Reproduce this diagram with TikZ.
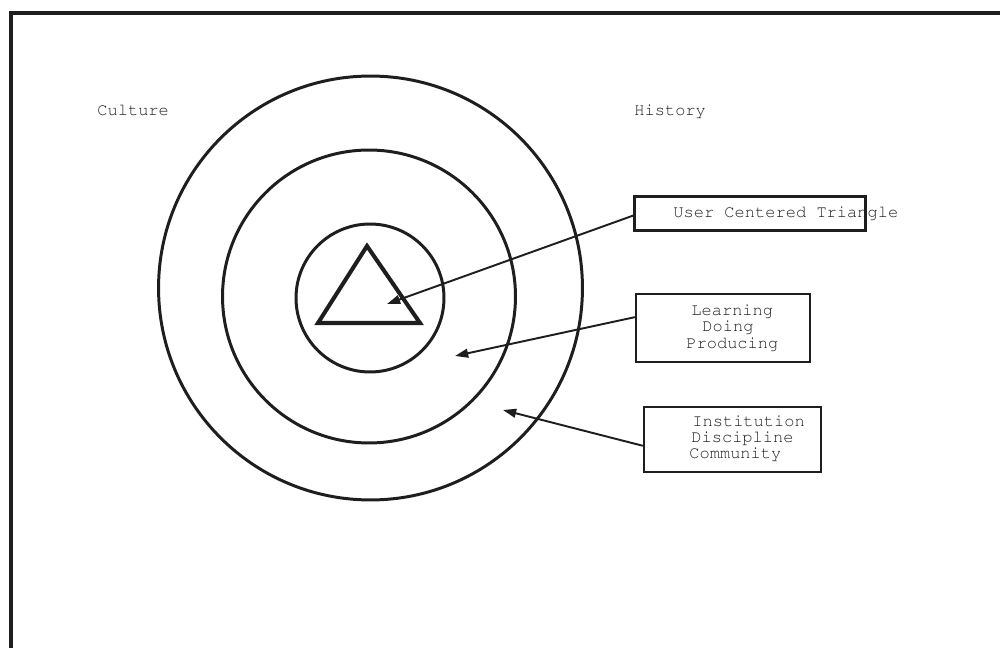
\documentclass[tikz,border=0pt]{standalone}
\usepackage[T1]{fontenc}
\usetikzlibrary{arrows.meta}
\definecolor{ink}{RGB}{30,30,30}
\tikzset{
  ring/.style={draw=ink, line width=1.7pt},
  labelbox/.style={draw=ink, line width=1.4pt, inner sep=0pt, rectangle},
  txt/.style={font=\fontencoding{T1}\fontfamily{pcr}\fontsize{9.7}{11}\selectfont, text=ink, inner sep=0pt, anchor=base west},
  pointer/.style={draw=ink, line width=1.1pt, -{Triangle[length=7.5pt,width=5pt]}}
}
\begin{document}
\begin{tikzpicture}[x={0.02cm}, y={-0.02cm}]
\useasboundingbox (0,0) rectangle (1000,648);
% frame
\draw[ink, line width=2.3pt, line join=miter] (11.3,660) -- (11.3,13) -- (1010,13);
% circles
\node[ring, circle, minimum size=8.48cm, inner sep=0pt] (outer) at (370.5,288) {};
\node[ring, circle, minimum size=5.86cm, inner sep=0pt] (middle) at (369,296.5) {};
\node[ring, circle, minimum size=2.96cm, inner sep=0pt] (inner) at (370,298) {};
% triangle
\draw[ink, line width=2.3pt, line join=miter] (367,246) -- (318,323) -- (420,323) -- cycle;
% corner labels
\node[txt] (culture) at (97,116) {Culture};
\node[txt] (history) at (634,116) {History};
% boxes
\node[labelbox, minimum width=4.62cm, minimum height=0.68cm] (b1) at (750,213.5) {};
\node[labelbox, minimum width=3.48cm, minimum height=1.36cm] (b2) at (723,328) {};
\node[labelbox, minimum width=3.54cm, minimum height=1.30cm] (b3) at (732.5,439.5) {};
% box texts
\node[txt] (t1) at (673,218) {User Centered Triangle};
\node[txt] (t2a) at (691,316) {Learning};
\node[txt] (t2b) at (702,332) {Doing};
\node[txt] (t2c) at (686,348) {Producing};
\node[txt] (t3a) at (692,426) {Institution};
\node[txt] (t3b) at (691,442) {Discipline};
\node[txt] (t3c) at (689,458) {Community};
% arrow tips
\coordinate (tip1) at (387,304);
\coordinate (tip2) at (455,356);
\coordinate (tip3) at (503,410);
\draw[pointer] (b1.181) -- (tip1);
\draw[pointer] (b2.173) -- (tip2);
\draw[pointer] (b3.184) -- (tip3);
\end{tikzpicture}
\end{document}
